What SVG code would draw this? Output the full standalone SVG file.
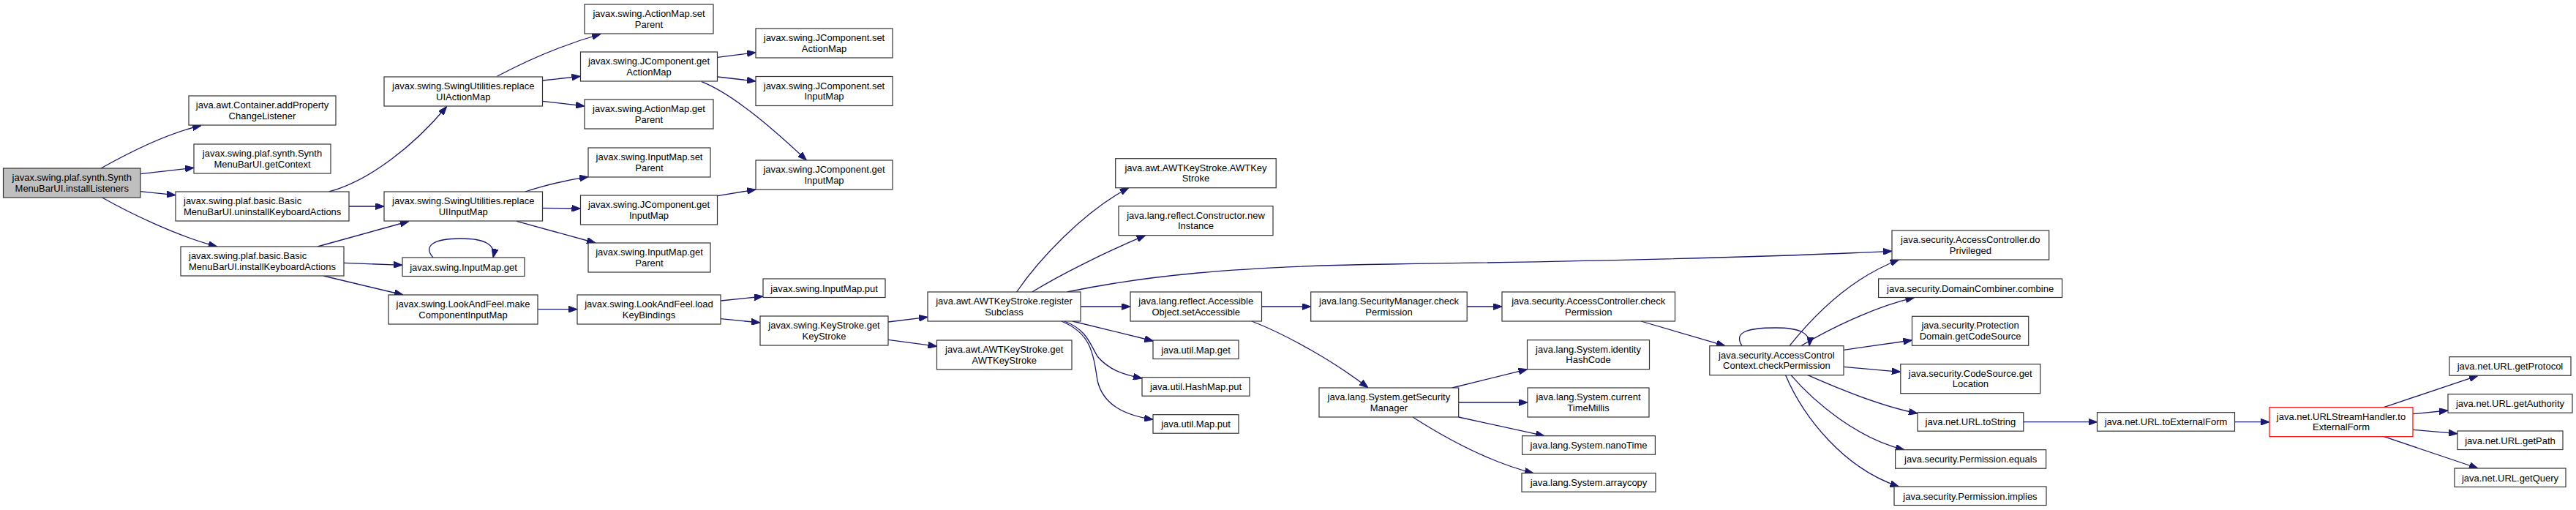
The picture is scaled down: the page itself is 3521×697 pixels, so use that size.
<svg xmlns="http://www.w3.org/2000/svg" width="3521" height="697" viewBox="0 0 3521 697">
<defs>
<style>
.node rect{fill:#ffffff;stroke:#333333;stroke-width:1.2}
.node text{font-family:"Liberation Sans",Arial,sans-serif;font-size:13px;fill:#000000;text-anchor:middle}
.node text.l{text-anchor:start}
#n_root rect{fill:#bfbfbf}
#n_ush rect{stroke:#ff0000}
.edges path{fill:none;stroke:#191970;stroke-width:1.3;marker-end:url(#arr)}
</style>
<marker id="arr" viewBox="0 0 12 9" refX="12" refY="4.5" markerWidth="12" markerHeight="9" orient="auto" markerUnits="userSpaceOnUse">
<path d="M0,0 L12,4.5 L0,9 z" fill="#191970" stroke="#191970" stroke-width="1"/>
</marker>
</defs>
<rect x="0" y="0" width="3521" height="697" fill="#ffffff"/>
<g class="edges">
<path d="M138,230 C170,212 225,183 275,171.5"/>
<path d="M192,237.7 L265,229.3"/>
<path d="M192,261.7 L240,266.7"/>
<path d="M139.7,270 C175,290 240,322 296.6,337"/>
<path d="M449.7,262 C505,247 565,200 610.6,145.5"/>
<path d="M477,282 L525,282"/>
<path d="M434,337 L558.7,302.5"/>
<path d="M470,359.3 L550,362.3"/>
<path d="M442,377 L551,403"/>
<path d="M592,352 C578,336 592,326 630,326 C662,326 678,334 674,352"/>
<path d="M679.5,104.3 C710,88 760,64 821,46.5"/>
<path d="M741.5,110 L793.5,104.3"/>
<path d="M741.5,138.3 L799,145"/>
<path d="M980.7,78.3 L1033,71.7"/>
<path d="M980.7,105 L1033,111"/>
<path d="M959,111.7 C1000,128 1050,170 1102.4,219"/>
<path d="M717.8,262 C745,253 770,247 804,241.7"/>
<path d="M741.5,284.3 L793.5,285"/>
<path d="M706.3,302.3 L814,332"/>
<path d="M980.7,267.7 L1033,259"/>
<path d="M735.4,422.7 L789,422.7"/>
<path d="M985.3,411 L1043,405"/>
<path d="M985.3,435.7 L1039,441"/>
<path d="M1214,440 L1268,433.3"/>
<path d="M1214,464.3 L1280.5,473.3"/>
<path d="M1389.6,399 C1420,355 1480,290 1542.7,256.7"/>
<path d="M1410.7,399 C1450,375 1510,345 1565.6,321.7"/>
<path d="M1458.5,399 C1560,378 1680,364 1900,361 S2400,352 2586,343.3"/>
<path d="M1477.3,419 L1545,419"/>
<path d="M1466,439 L1576.4,466"/>
<path d="M1454.7,439 C1485,450 1490,470 1500,487 C1515,505 1535,512 1561,517"/>
<path d="M1450.9,439 C1490,455 1494,480 1500,520 C1508,555 1540,568 1576,573.3"/>
<path d="M1724.5,419 L1791.7,419"/>
<path d="M1711,439 C1760,458 1825,495 1870,530"/>
<path d="M2005,419 L2053,419"/>
<path d="M2243,439 L2358,472.7"/>
<path d="M1985,530 L2087.5,504.7"/>
<path d="M1993.7,550 L2088,550"/>
<path d="M1993.7,570 L2111,595.7"/>
<path d="M1931,570 C1970,595 2030,630 2096,646.7"/>
<path d="M2381,472.7 C2370,455 2385,448 2427,448 C2460,448 2475,455 2473,472.7"/>
<path d="M2446,472.7 C2480,430 2530,380 2595.5,355"/>
<path d="M2461.6,472.7 C2500,450 2560,420 2616.6,406.7"/>
<path d="M2520,478.3 L2613.5,465"/>
<path d="M2520,501.3 L2597.8,508.3"/>
<path d="M2471,512.7 C2510,530 2570,555 2621,565"/>
<path d="M2448,512.7 C2480,550 2540,600 2603,614.7"/>
<path d="M2440.6,512.7 C2465,570 2520,640 2595.5,665"/>
<path d="M2765.8,576.7 L2866.5,576.7"/>
<path d="M3054.5,576.7 L3102,576.7"/>
<path d="M3258.4,556.7 L3387,513.3"/>
<path d="M3298,565.7 L3346,561"/>
<path d="M3298,587.3 L3359,592.7"/>
<path d="M3258.4,596.7 L3387,640"/>
</g>
<g id="n_root" class="node"><rect x="4.5" y="230" width="187.5" height="40"/><text><tspan x="98.25" y="247">javax.swing.plaf.synth.Synth</tspan><tspan x="98.25" y="261.5">MenuBarUI.installListeners</tspan></text></g>
<g id="n_addProp" class="node"><rect x="258" y="131" width="201" height="40"/><text><tspan x="358.5" y="148">java.awt.Container.addProperty</tspan><tspan x="358.5" y="162.5">ChangeListener</tspan></text></g>
<g id="n_getContext" class="node"><rect x="265" y="197" width="187" height="40"/><text><tspan x="358.5" y="214">javax.swing.plaf.synth.Synth</tspan><tspan x="358.5" y="228.5">MenuBarUI.getContext</tspan></text></g>
<g id="n_uninstall" class="node"><rect x="240" y="262" width="237" height="40"/><text class="l"><tspan x="251" y="279">javax.swing.plaf.basic.Basic</tspan><tspan x="251" y="293.5">MenuBarUI.uninstallKeyboardActions</tspan></text></g>
<g id="n_install" class="node"><rect x="247" y="337" width="223" height="40"/><text class="l"><tspan x="258" y="354">javax.swing.plaf.basic.Basic</tspan><tspan x="258" y="368.5">MenuBarUI.installKeyboardActions</tspan></text></g>
<g id="n_replAM" class="node"><rect x="525" y="105" width="216.5" height="40"/><text><tspan x="633.25" y="122">javax.swing.SwingUtilities.replace</tspan><tspan x="633.25" y="136.5">UIActionMap</tspan></text></g>
<g id="n_replIM" class="node"><rect x="525" y="262" width="216.5" height="40"/><text><tspan x="633.25" y="279">javax.swing.SwingUtilities.replace</tspan><tspan x="633.25" y="293.5">UIInputMap</tspan></text></g>
<g id="n_imGet" class="node"><rect x="550" y="352" width="167" height="25.5"/><text><tspan x="633.5" y="369.5">javax.swing.InputMap.get</tspan></text></g>
<g id="n_makeCIM" class="node"><rect x="531" y="403" width="204" height="40"/><text><tspan x="633" y="420">javax.swing.LookAndFeel.make</tspan><tspan x="633" y="434.5">ComponentInputMap</tspan></text></g>
<g id="n_amSetParent" class="node"><rect x="799" y="6" width="176" height="40"/><text><tspan x="887" y="23">javax.swing.ActionMap.set</tspan><tspan x="887" y="37.5">Parent</tspan></text></g>
<g id="n_jcGetAM" class="node"><rect x="793.5" y="71" width="187" height="40"/><text><tspan x="887" y="88">javax.swing.JComponent.get</tspan><tspan x="887" y="102.5">ActionMap</tspan></text></g>
<g id="n_amGetParent" class="node"><rect x="799" y="136" width="176" height="40"/><text><tspan x="887" y="153">javax.swing.ActionMap.get</tspan><tspan x="887" y="167.5">Parent</tspan></text></g>
<g id="n_imSetParent" class="node"><rect x="804" y="202" width="167" height="40"/><text><tspan x="887.5" y="219">javax.swing.InputMap.set</tspan><tspan x="887.5" y="233.5">Parent</tspan></text></g>
<g id="n_jcGetIM1" class="node"><rect x="793.5" y="267" width="187" height="40"/><text><tspan x="887" y="284">javax.swing.JComponent.get</tspan><tspan x="887" y="298.5">InputMap</tspan></text></g>
<g id="n_imGetParent" class="node"><rect x="804" y="332" width="167" height="40"/><text><tspan x="887.5" y="349">javax.swing.InputMap.get</tspan><tspan x="887.5" y="363.5">Parent</tspan></text></g>
<g id="n_jcSetAM" class="node"><rect x="1033" y="39" width="187" height="40"/><text><tspan x="1126.5" y="56">javax.swing.JComponent.set</tspan><tspan x="1126.5" y="70.5">ActionMap</tspan></text></g>
<g id="n_jcSetIM" class="node"><rect x="1033" y="104.5" width="187" height="40"/><text><tspan x="1126.5" y="121.5">javax.swing.JComponent.set</tspan><tspan x="1126.5" y="136">InputMap</tspan></text></g>
<g id="n_jcGetIM2" class="node"><rect x="1033" y="219" width="187" height="40"/><text><tspan x="1126.5" y="236">javax.swing.JComponent.get</tspan><tspan x="1126.5" y="250.5">InputMap</tspan></text></g>
<g id="n_loadKB" class="node"><rect x="789" y="403" width="196" height="40"/><text><tspan x="887" y="420">javax.swing.LookAndFeel.load</tspan><tspan x="887" y="434.5">KeyBindings</tspan></text></g>
<g id="n_imPut" class="node"><rect x="1043" y="381" width="167" height="25.5"/><text><tspan x="1126.5" y="398.5">javax.swing.InputMap.put</tspan></text></g>
<g id="n_ksGet" class="node"><rect x="1039" y="432" width="175" height="40"/><text><tspan x="1126.5" y="449">javax.swing.KeyStroke.get</tspan><tspan x="1126.5" y="463.5">KeyStroke</tspan></text></g>
<g id="n_regSub" class="node"><rect x="1268" y="399" width="209" height="40"/><text><tspan x="1372.5" y="416">java.awt.AWTKeyStroke.register</tspan><tspan x="1372.5" y="430.5">Subclass</tspan></text></g>
<g id="n_getAWTKS" class="node"><rect x="1280.5" y="465" width="184.5" height="40"/><text><tspan x="1372.75" y="482">java.awt.AWTKeyStroke.get</tspan><tspan x="1372.75" y="496.5">AWTKeyStroke</tspan></text></g>
<g id="n_awtks" class="node"><rect x="1524.7" y="216.7" width="219.5" height="40"/><text><tspan x="1634.5" y="233.7">java.awt.AWTKeyStroke.AWTKey</tspan><tspan x="1634.5" y="248.2">Stroke</tspan></text></g>
<g id="n_newInst" class="node"><rect x="1529" y="281.7" width="211" height="40"/><text><tspan x="1634.5" y="298.7">java.lang.reflect.Constructor.new</tspan><tspan x="1634.5" y="313.2">Instance</tspan></text></g>
<g id="n_setAcc" class="node"><rect x="1545" y="399" width="179.5" height="40"/><text><tspan x="1634.75" y="416">java.lang.reflect.Accessible</tspan><tspan x="1634.75" y="430.5">Object.setAccessible</tspan></text></g>
<g id="n_mapGet" class="node"><rect x="1576" y="465" width="117" height="25.5"/><text><tspan x="1634.5" y="482.5">java.util.Map.get</tspan></text></g>
<g id="n_hashPut" class="node"><rect x="1561" y="515.7" width="147" height="25.5"/><text><tspan x="1634.5" y="533.2">java.util.HashMap.put</tspan></text></g>
<g id="n_mapPut" class="node"><rect x="1576" y="566.7" width="117" height="25.5"/><text><tspan x="1634.5" y="584.2">java.util.Map.put</tspan></text></g>
<g id="n_smCheck" class="node"><rect x="1791.7" y="399" width="213.5" height="40"/><text><tspan x="1898.5" y="416">java.lang.SecurityManager.check</tspan><tspan x="1898.5" y="430.5">Permission</tspan></text></g>
<g id="n_acCheck" class="node"><rect x="2053" y="399" width="236.5" height="40"/><text><tspan x="2171.25" y="416">java.security.AccessController.check</tspan><tspan x="2171.25" y="430.5">Permission</tspan></text></g>
<g id="n_getSM" class="node"><rect x="1803" y="530" width="190.7" height="40"/><text><tspan x="1898.35" y="547">java.lang.System.getSecurity</tspan><tspan x="1898.35" y="561.5">Manager</tspan></text></g>
<g id="n_idHash" class="node"><rect x="2087.5" y="464.7" width="167" height="40"/><text><tspan x="2171" y="481.7">java.lang.System.identity</tspan><tspan x="2171" y="496.2">HashCode</tspan></text></g>
<g id="n_ctm" class="node"><rect x="2088" y="530" width="166" height="40"/><text><tspan x="2171" y="547">java.lang.System.current</tspan><tspan x="2171" y="561.5">TimeMillis</tspan></text></g>
<g id="n_nano" class="node"><rect x="2080.6" y="595.7" width="181.8" height="25.5"/><text><tspan x="2171.5" y="613.2">java.lang.System.nanoTime</tspan></text></g>
<g id="n_arraycopy" class="node"><rect x="2080" y="646.7" width="183" height="25.5"/><text><tspan x="2171.5" y="664.2">java.lang.System.arraycopy</tspan></text></g>
<g id="n_doPriv" class="node"><rect x="2586" y="315" width="214.7" height="40"/><text><tspan x="2693.35" y="332">java.security.AccessController.do</tspan><tspan x="2693.35" y="346.5">Privileged</tspan></text></g>
<g id="n_accCheck" class="node"><rect x="2336.8" y="472.7" width="183.2" height="40"/><text><tspan x="2428.4" y="489.7">java.security.AccessControl</tspan><tspan x="2428.4" y="504.2">Context.checkPermission</tspan></text></g>
<g id="n_combine" class="node"><rect x="2567.6" y="381" width="251" height="25.5"/><text><tspan x="2693.1" y="398.5">java.security.DomainCombiner.combine</tspan></text></g>
<g id="n_pdGetCS" class="node"><rect x="2613.5" y="432.3" width="159.2" height="40"/><text><tspan x="2693.1" y="449.3">java.security.Protection</tspan><tspan x="2693.1" y="463.8">Domain.getCodeSource</tspan></text></g>
<g id="n_csGetLoc" class="node"><rect x="2597.8" y="497.7" width="191" height="40"/><text><tspan x="2693.3" y="514.7">java.security.CodeSource.get</tspan><tspan x="2693.3" y="529.2">Location</tspan></text></g>
<g id="n_urlToString" class="node"><rect x="2621" y="563.7" width="144.8" height="25.5"/><text><tspan x="2693.4" y="581.2">java.net.URL.toString</tspan></text></g>
<g id="n_permEquals" class="node"><rect x="2590.6" y="614.7" width="206" height="25.5"/><text><tspan x="2693.6" y="632.2">java.security.Permission.equals</tspan></text></g>
<g id="n_permImplies" class="node"><rect x="2589" y="665" width="208" height="25.5"/><text><tspan x="2693" y="682.5">java.security.Permission.implies</tspan></text></g>
<g id="n_urlToExt" class="node"><rect x="2866.5" y="563.7" width="188" height="25.5"/><text><tspan x="2960.5" y="581.2">java.net.URL.toExternalForm</tspan></text></g>
<g id="n_ush" class="node"><rect x="3102" y="556.7" width="196" height="40"/><text><tspan x="3200" y="573.7">java.net.URLStreamHandler.to</tspan><tspan x="3200" y="588.2">ExternalForm</tspan></text></g>
<g id="n_getProtocol" class="node"><rect x="3348" y="487.7" width="166" height="25.5"/><text><tspan x="3431" y="505.2">java.net.URL.getProtocol</tspan></text></g>
<g id="n_getAuthority" class="node"><rect x="3346" y="538.7" width="170" height="25.5"/><text><tspan x="3431" y="556.2">java.net.URL.getAuthority</tspan></text></g>
<g id="n_getPath" class="node"><rect x="3359" y="589" width="144" height="25.5"/><text><tspan x="3431" y="606.5">java.net.URL.getPath</tspan></text></g>
<g id="n_getQuery" class="node"><rect x="3355" y="640" width="152" height="25.5"/><text><tspan x="3431" y="657.5">java.net.URL.getQuery</tspan></text></g>
</svg>
